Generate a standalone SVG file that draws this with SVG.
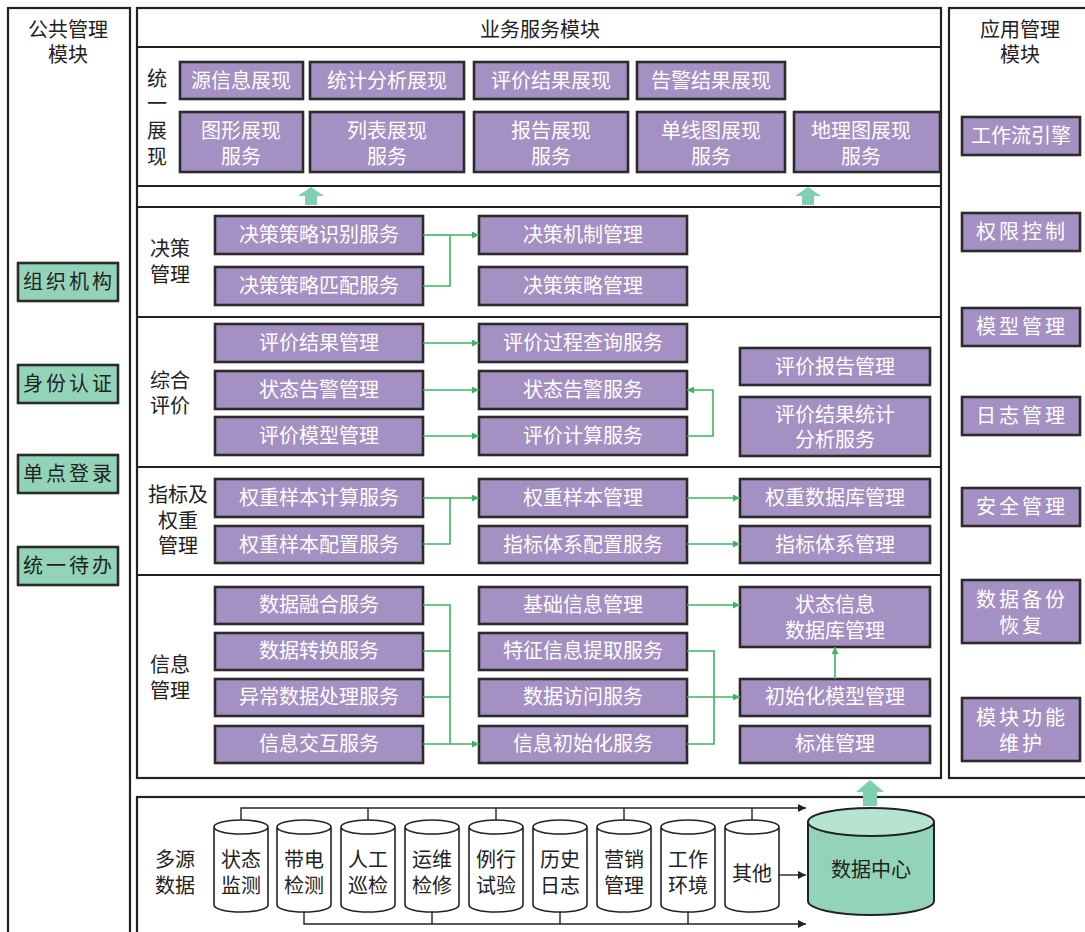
<svg xmlns="http://www.w3.org/2000/svg" width="1085" height="932" viewBox="0 0 1085 932">
<style>
.frame{fill:#fff;stroke:#222;stroke-width:2.2}
.sep{stroke:#222;stroke-width:2.2}
.pb{fill:#a590c4;stroke:#2b2b2b;stroke-width:2.6}
.gb{fill:#93d4b9;stroke:#2b2b2b;stroke-width:2.6}
.wt{font-family:"Noto Sans CJK SC","Noto Sans",sans-serif;font-size:20px;fill:#fff;text-anchor:middle}
.bt{font-family:"Noto Sans CJK SC","Noto Sans",sans-serif;font-size:20px;fill:#222;text-anchor:middle}
.sp{letter-spacing:3px}
.con{fill:none;stroke:#3cb55e;stroke-width:1.6}
.bcon{fill:none;stroke:#222;stroke-width:1.4}
.cyl{fill:#fff;stroke:#222;stroke-width:1.6}
.up{fill:#7fcfb0}
</style>
<defs>
<marker id="ga" viewBox="0 0 10 10" refX="10" refY="5" markerWidth="10" markerHeight="7" markerUnits="userSpaceOnUse" orient="auto"><path d="M0,0L10,5L0,10z" fill="#3cb55e"/></marker>
<marker id="ba" viewBox="0 0 10 10" refX="10" refY="5" markerWidth="12" markerHeight="8" markerUnits="userSpaceOnUse" orient="auto"><path d="M0,0L10,5L0,10z" fill="#222"/></marker>
</defs>

<!-- Left column -->
<g id="public-module">
<rect class="frame" x="8" y="8" width="122" height="940"/>
<text class="bt" x="68" y="37">公共管理<tspan x="68" dy="25">模块</tspan></text>
</g>
<g id="n-zzjg"><rect class="gb" x="18" y="263" width="100" height="38"/><text class="bt sp" x="69" y="289">组织机构</text></g>
<g id="n-sfrz"><rect class="gb" x="18" y="365" width="100" height="38"/><text class="bt sp" x="69" y="391">身份认证</text></g>
<g id="n-ddl"><rect class="gb" x="18" y="455" width="100" height="38"/><text class="bt sp" x="69" y="481">单点登录</text></g>
<g id="n-tydb"><rect class="gb" x="18" y="547" width="100" height="38"/><text class="bt sp" x="69" y="573">统一待办</text></g>

<!-- Right column -->
<g id="app-module">
<rect class="frame" x="949" y="8" width="150" height="770"/>
<text class="bt" x="1020" y="37">应用管理<tspan x="1020" dy="25">模块</tspan></text>
</g>
<g id="n-gzl"><rect class="pb" x="962" y="117" width="118" height="38"/><text class="wt" x="1021" y="143">工作流引擎</text></g>
<g id="n-qxkz"><rect class="pb" x="962" y="213" width="118" height="38"/><text class="wt sp" x="1022" y="239">权限控制</text></g>
<g id="n-mxgl"><rect class="pb" x="962" y="308" width="118" height="38"/><text class="wt sp" x="1022" y="334">模型管理</text></g>
<g id="n-rzgl"><rect class="pb" x="962" y="397" width="118" height="38"/><text class="wt sp" x="1022" y="423">日志管理</text></g>
<g id="n-aqgl"><rect class="pb" x="962" y="488" width="118" height="38"/><text class="wt sp" x="1022" y="514">安全管理</text></g>
<g id="n-sjbf"><rect class="pb" x="962" y="580" width="118" height="63"/><text class="wt sp" x="1022" y="607">数据备份<tspan x="1022" dy="26">恢复</tspan></text></g>
<g id="n-mkgn"><rect class="pb" x="962" y="698" width="118" height="63"/><text class="wt sp" x="1022" y="725">模块功能<tspan x="1022" dy="26">维护</tspan></text></g>

<!-- Business frame -->
<g id="business-module">
<rect class="frame" x="137" y="8" width="804" height="770"/>
<line class="sep" x1="137" y1="47" x2="941" y2="47"/>
<line class="sep" x1="137" y1="186" x2="941" y2="186"/>
<line class="sep" x1="137" y1="207" x2="941" y2="207"/>
<line class="sep" x1="137" y1="317" x2="941" y2="317"/>
<line class="sep" x1="137" y1="467" x2="941" y2="467"/>
<line class="sep" x1="137" y1="575" x2="941" y2="575"/>
<text class="bt" x="540" y="37">业务服务模块</text>
<text class="bt" x="157" y="86">统<tspan x="157" dy="25">一</tspan><tspan x="157" dy="27">展</tspan><tspan x="157" dy="26">现</tspan></text>
<text class="bt" x="170" y="256">决策<tspan x="170" dy="26">管理</tspan></text>
<text class="bt" x="170" y="388">综合<tspan x="170" dy="25">评价</tspan></text>
<text class="bt" x="178" y="502">指标及<tspan x="178" dy="26">权重</tspan><tspan x="178" dy="25">管理</tspan></text>
<text class="bt" x="170" y="672">信息<tspan x="170" dy="26">管理</tspan></text>
<polygon class="up" points="311,187 324,196 317,196 317,205 305,205 305,196 298,196"/>
<polygon class="up" points="808,187 821,196 814,196 814,205 802,205 802,196 795,196"/>
</g>

<!-- 统一展现 -->
<g id="n-yxxzx"><rect class="pb" x="180" y="62" width="123" height="37"/><text class="wt" x="241" y="88">源信息展现</text></g>
<g id="n-tjfxzx"><rect class="pb" x="310" y="62" width="154" height="37"/><text class="wt" x="387" y="88">统计分析展现</text></g>
<g id="n-pjjgzx"><rect class="pb" x="474" y="62" width="154" height="37"/><text class="wt" x="551" y="88">评价结果展现</text></g>
<g id="n-gjjgzx"><rect class="pb" x="637" y="62" width="148" height="37"/><text class="wt" x="711" y="88">告警结果展现</text></g>
<g id="n-txzx"><rect class="pb" x="180" y="112" width="123" height="60"/><text class="wt" x="241" y="138">图形展现<tspan x="241" dy="26">服务</tspan></text></g>
<g id="n-lbzx"><rect class="pb" x="310" y="112" width="154" height="60"/><text class="wt" x="387" y="138">列表展现<tspan x="387" dy="26">服务</tspan></text></g>
<g id="n-bgzx"><rect class="pb" x="474" y="112" width="154" height="60"/><text class="wt" x="551" y="138">报告展现<tspan x="551" dy="26">服务</tspan></text></g>
<g id="n-dxtzx"><rect class="pb" x="637" y="112" width="148" height="60"/><text class="wt" x="711" y="138">单线图展现<tspan x="711" dy="26">服务</tspan></text></g>
<g id="n-dltzx"><rect class="pb" x="794" y="112" width="146" height="60"/><text class="wt" x="861" y="138">地理图展现<tspan x="861" dy="26">服务</tspan></text></g>

<!-- 决策管理 -->
<g id="n-jcsb"><rect class="pb" x="215" y="216" width="208" height="38"/><text class="wt" x="319" y="242">决策策略识别服务</text></g>
<g id="n-jcpp"><rect class="pb" x="215" y="267" width="208" height="38"/><text class="wt" x="319" y="293">决策策略匹配服务</text></g>
<g id="n-jcjz"><rect class="pb" x="479" y="216" width="208" height="38"/><text class="wt" x="583" y="242">决策机制管理</text></g>
<g id="n-jccl"><rect class="pb" x="479" y="267" width="208" height="38"/><text class="wt" x="583" y="293">决策策略管理</text></g>

<!-- 综合评价 -->
<g id="n-pjjggl"><rect class="pb" x="215" y="324" width="208" height="38"/><text class="wt" x="319" y="350">评价结果管理</text></g>
<g id="n-ztgjgl"><rect class="pb" x="215" y="371" width="208" height="38"/><text class="wt" x="319" y="397">状态告警管理</text></g>
<g id="n-pjmxgl"><rect class="pb" x="215" y="417" width="208" height="38"/><text class="wt" x="319" y="443">评价模型管理</text></g>
<g id="n-pjgccx"><rect class="pb" x="479" y="324" width="208" height="38"/><text class="wt" x="583" y="350">评价过程查询服务</text></g>
<g id="n-ztgjfw"><rect class="pb" x="479" y="371" width="208" height="38"/><text class="wt" x="583" y="397">状态告警服务</text></g>
<g id="n-pjjsfw"><rect class="pb" x="479" y="417" width="208" height="38"/><text class="wt" x="583" y="443">评价计算服务</text></g>
<g id="n-pjbggl"><rect class="pb" x="740" y="348" width="190" height="37"/><text class="wt" x="835" y="374">评价报告管理</text></g>
<g id="n-pjjgtj"><rect class="pb" x="740" y="397" width="190" height="59"/><text class="wt" x="835" y="422">评价结果统计<tspan x="835" dy="25">分析服务</tspan></text></g>

<!-- 指标及权重管理 -->
<g id="n-qzjs"><rect class="pb" x="215" y="479" width="208" height="38"/><text class="wt" x="319" y="505">权重样本计算服务</text></g>
<g id="n-qzpz"><rect class="pb" x="215" y="526" width="208" height="37"/><text class="wt" x="319" y="552">权重样本配置服务</text></g>
<g id="n-qzybgl"><rect class="pb" x="479" y="479" width="208" height="38"/><text class="wt" x="583" y="505">权重样本管理</text></g>
<g id="n-zbtxpz"><rect class="pb" x="479" y="526" width="208" height="37"/><text class="wt" x="583" y="552">指标体系配置服务</text></g>
<g id="n-qzsjk"><rect class="pb" x="740" y="479" width="190" height="38"/><text class="wt" x="835" y="505">权重数据库管理</text></g>
<g id="n-zbtxgl"><rect class="pb" x="740" y="526" width="190" height="37"/><text class="wt" x="835" y="552">指标体系管理</text></g>

<!-- 信息管理 -->
<g id="n-sjrh"><rect class="pb" x="215" y="587" width="208" height="37"/><text class="wt" x="319" y="612">数据融合服务</text></g>
<g id="n-sjzh"><rect class="pb" x="215" y="633" width="208" height="37"/><text class="wt" x="319" y="658">数据转换服务</text></g>
<g id="n-ycsj"><rect class="pb" x="215" y="679" width="208" height="37"/><text class="wt" x="319" y="704">异常数据处理服务</text></g>
<g id="n-xxjh"><rect class="pb" x="215" y="726" width="208" height="37"/><text class="wt" x="319" y="751">信息交互服务</text></g>
<g id="n-jcxx"><rect class="pb" x="479" y="587" width="208" height="37"/><text class="wt" x="583" y="612">基础信息管理</text></g>
<g id="n-tzxx"><rect class="pb" x="479" y="633" width="208" height="37"/><text class="wt" x="583" y="658">特征信息提取服务</text></g>
<g id="n-sjfw"><rect class="pb" x="479" y="679" width="208" height="37"/><text class="wt" x="583" y="704">数据访问服务</text></g>
<g id="n-xxcsh"><rect class="pb" x="479" y="726" width="208" height="37"/><text class="wt" x="583" y="751">信息初始化服务</text></g>
<g id="n-ztxxk"><rect class="pb" x="740" y="587" width="190" height="60"/><text class="wt" x="835" y="612">状态信息<tspan x="835" dy="26">数据库管理</tspan></text></g>
<g id="n-cshmx"><rect class="pb" x="740" y="679" width="190" height="37"/><text class="wt" x="835" y="704">初始化模型管理</text></g>
<g id="n-bzgl"><rect class="pb" x="740" y="726" width="190" height="37"/><text class="wt" x="835" y="751">标准管理</text></g>

<!-- Bottom data section -->
<g id="data-section">
<rect class="frame" x="137" y="797" width="970" height="160"/>
<text class="bt" x="175" y="867">多源<tspan x="175" dy="26">数据</tspan></text>
<polygon class="up" points="870,780 884,792 877,792 877,806 863,806 863,792 856,792"/>
</g>

<g id="n-ztjc"><path class="cyl" d="M214,827 v78 a27,7 0 0 0 54,0 v-78 a27,7 0 0 0 -54,0 a27,7 0 0 0 54,0"/><text class="bt" x="241" y="867">状态<tspan x="241" dy="26">监测</tspan></text></g>
<g id="n-ddjc"><path class="cyl" d="M277,827 v78 a27,7 0 0 0 54,0 v-78 a27,7 0 0 0 -54,0 a27,7 0 0 0 54,0"/><text class="bt" x="304" y="867">带电<tspan x="304" dy="26">检测</tspan></text></g>
<g id="n-rgxj"><path class="cyl" d="M341,827 v78 a27,7 0 0 0 54,0 v-78 a27,7 0 0 0 -54,0 a27,7 0 0 0 54,0"/><text class="bt" x="368" y="867">人工<tspan x="368" dy="26">巡检</tspan></text></g>
<g id="n-ywjx"><path class="cyl" d="M405,827 v78 a27,7 0 0 0 54,0 v-78 a27,7 0 0 0 -54,0 a27,7 0 0 0 54,0"/><text class="bt" x="432" y="867">运维<tspan x="432" dy="26">检修</tspan></text></g>
<g id="n-lxsy"><path class="cyl" d="M469,827 v78 a27,7 0 0 0 54,0 v-78 a27,7 0 0 0 -54,0 a27,7 0 0 0 54,0"/><text class="bt" x="496" y="867">例行<tspan x="496" dy="26">试验</tspan></text></g>
<g id="n-lsrz"><path class="cyl" d="M533,827 v78 a27,7 0 0 0 54,0 v-78 a27,7 0 0 0 -54,0 a27,7 0 0 0 54,0"/><text class="bt" x="560" y="867">历史<tspan x="560" dy="26">日志</tspan></text></g>
<g id="n-yxgl"><path class="cyl" d="M597,827 v78 a27,7 0 0 0 54,0 v-78 a27,7 0 0 0 -54,0 a27,7 0 0 0 54,0"/><text class="bt" x="624" y="867">营销<tspan x="624" dy="26">管理</tspan></text></g>
<g id="n-gzhj"><path class="cyl" d="M661,827 v78 a27,7 0 0 0 54,0 v-78 a27,7 0 0 0 -54,0 a27,7 0 0 0 54,0"/><text class="bt" x="688" y="867">工作<tspan x="688" dy="26">环境</tspan></text></g>
<g id="n-qt"><path class="cyl" d="M725,827 v78 a27,7 0 0 0 54,0 v-78 a27,7 0 0 0 -54,0 a27,7 0 0 0 54,0"/><text class="bt" x="752" y="881">其他</text></g>
<g id="n-sjzx">
<path d="M808,822 v79 a63,14 0 0 0 126,0 v-79 z" fill="#93d4b9" stroke="#222" stroke-width="2"/>
<ellipse cx="871" cy="822" rx="63" ry="14" fill="#b7e3d1" stroke="#222" stroke-width="2"/>
<text class="bt" x="871" y="877">数据中心</text>
</g>

<!-- Connectors -->
<g id="connectors">
<path class="con" d="M423,235 H450" /><path class="con" d="M423,286 H450 V235 H479" marker-end="url(#ga)"/>
<path class="con" d="M423,343 H479" marker-end="url(#ga)"/>
<path class="con" d="M423,390 H479" marker-end="url(#ga)"/>
<path class="con" d="M423,436 H479" marker-end="url(#ga)"/>
<path class="con" d="M687,436 H713 V390 H687" marker-end="url(#ga)"/>
<path class="con" d="M423,498 H450"/><path class="con" d="M423,544 H450 V498 H479" marker-end="url(#ga)"/>
<path class="con" d="M687,498 H740" marker-end="url(#ga)"/>
<path class="con" d="M687,544 H740" marker-end="url(#ga)"/>
<path class="con" d="M423,605 H450 V744"/>
<path class="con" d="M423,651 H450"/>
<path class="con" d="M423,697 H450"/>
<path class="con" d="M423,744 H479" marker-end="url(#ga)"/>
<path class="con" d="M687,605 H740" marker-end="url(#ga)"/>
<path class="con" d="M687,651 H714 V744 H687"/>
<path class="con" d="M687,697 H740" marker-end="url(#ga)"/>
<path class="con" d="M835,679 V647" marker-end="url(#ga)"/>
<path class="bcon" d="M241,820 V808 H806" marker-end="url(#ba)"/>
<path class="bcon" d="M368,820 V808 M496,820 V808 M624,820 V808 M752,820 V808"/>
<path class="bcon" d="M304,912 V924 H806" marker-end="url(#ba)"/>
<path class="bcon" d="M432,912 V924 M560,912 V924 M688,912 V924"/>
<path class="bcon" d="M779,875 H806" marker-end="url(#ba)"/>
</g>
</svg>
